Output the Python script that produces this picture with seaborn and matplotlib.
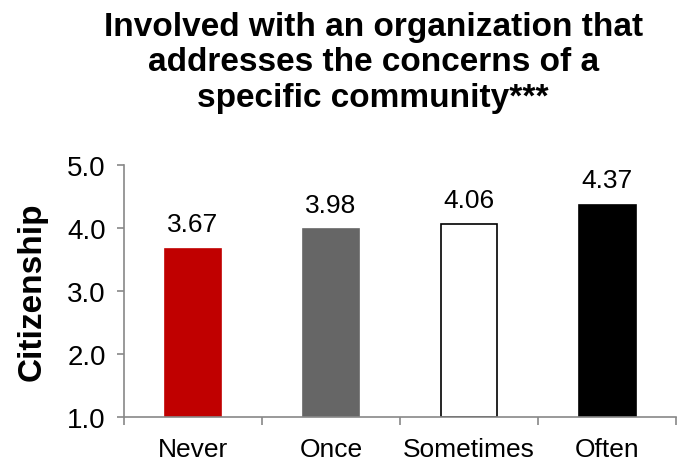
import matplotlib
matplotlib.use("Agg")
import matplotlib.pyplot as plt
import seaborn as sns
import numpy as np

# Data
categories = ["Never", "Once", "Sometimes", "Often"]
scores = [3.67, 3.98, 4.06, 4.37]
bar_colors = ["#C00000", "#666666", "#FFFFFF", "#000000"]
edge_colors = ["#C00000", "#666666", "#000000", "#000000"]

sns.set_style("white")
plt.rcParams['font.family'] = ['Liberation Sans', 'DejaVu Sans']
plt.rcParams['text.color'] = 'black'
plt.rcParams['xtick.color'] = 'black'
plt.rcParams['ytick.color'] = 'black'
plt.rcParams['axes.labelcolor'] = 'black'

fig = plt.figure(figsize=(6.81, 4.64), dpi=100)
ax = fig.add_axes([0.182, 0.099, 0.811, 0.543])

sns.barplot(x=categories, y=scores, hue=categories, palette=bar_colors,
            saturation=1, legend=False, width=0.41, ax=ax)
for bar, ec in zip(ax.patches, edge_colors):
    bar.set_edgecolor(ec)
    bar.set_linewidth(1.2)
    bar.set_y(1.0)
    bar.set_height(bar.get_height() - 1.0)

# Value labels
for i, v in enumerate(scores):
    ax.text(i, v + 0.2, f"{v:.2f}", ha="center", va="bottom", fontsize=19)

ax.set_ylim(1.0, 5.0)
ax.set_xlim(-0.5, 3.5)
ax.set_yticks([1.0, 2.0, 3.0, 4.0, 5.0])
ax.set_yticklabels([f"{t:.1f}" for t in [1, 2, 3, 4, 5]], fontsize=20)
ax.set_xticks(range(len(categories)))
ax.set_xticklabels(categories, fontsize=19)
ax.set_xticks(np.arange(-0.5, 4.0, 1.0), minor=True)
ax.tick_params(axis="x", which="major", bottom=True, length=0, pad=14)
ax.tick_params(axis="x", which="minor", bottom=True, length=6, width=1.2,
               color="#888888", direction="out")
ax.tick_params(axis="y", left=True, length=5, width=1.2, color="#888888",
               direction="out", pad=8)

for side in ["top", "right"]:
    ax.spines[side].set_visible(False)
for side in ["left", "bottom"]:
    ax.spines[side].set_color("#888888")
    ax.spines[side].set_linewidth(1.2)

ax.set_ylabel("Citizenship", fontsize=24, fontweight="bold", labelpad=14)
ax.set_xlabel("")

fig.text(0.548, 0.975, "Involved with an organization that\naddresses the concerns of a\nspecific community***",
         ha="center", va="top", fontsize=24, fontweight="bold", linespacing=1.2)

fig.savefig("out.png", dpi=100)
